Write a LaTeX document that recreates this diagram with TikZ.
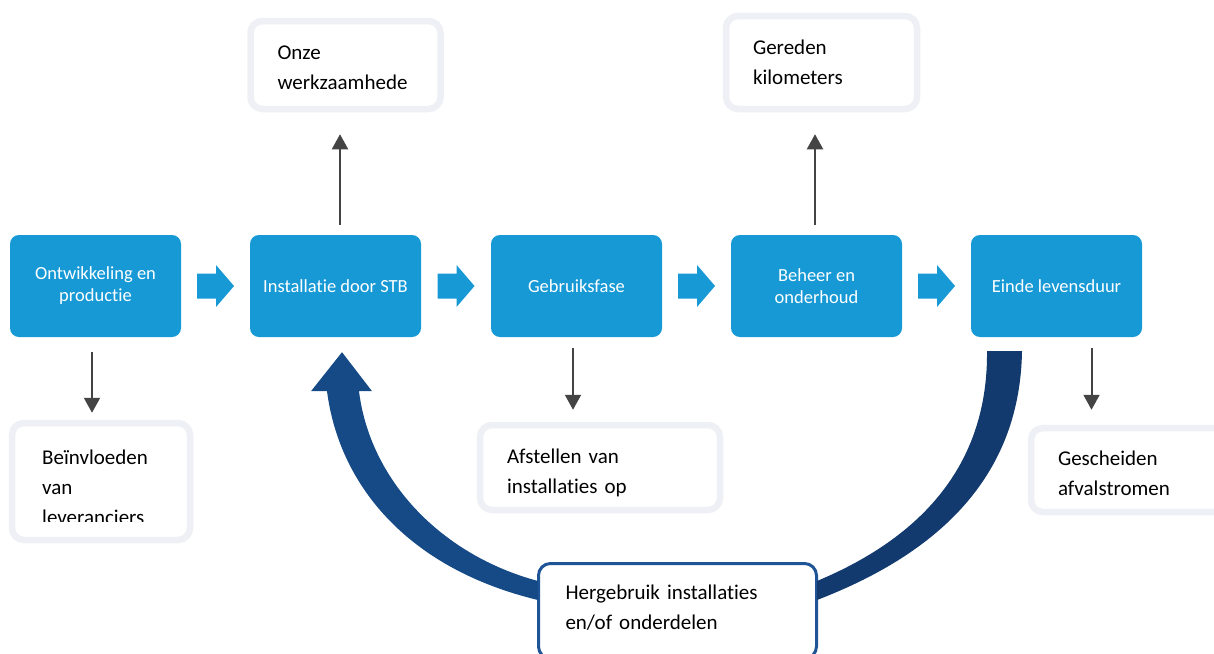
\documentclass[tikz,border=0pt]{standalone}
\usepackage{fontspec}
\setmainfont{Carlito}[Ligatures=NoCommon]
\usepackage{tikz}
\usetikzlibrary{calc}
\usetikzlibrary{arrows.meta}
\definecolor{StageBlue}{RGB}{23,153,214}
\definecolor{LoopBlue}{RGB}{21,74,135}
\definecolor{LoopDark}{RGB}{18,58,110}
\definecolor{FrameBlue}{RGB}{31,85,150}
\definecolor{BoxGrey}{RGB}{238,240,245}
\definecolor{ArrowGrey}{RGB}{68,68,68}
\hyphenpenalty=10000

\begin{document}
\begin{tikzpicture}[x=1pt,y=-1pt]
       \tikzstyle{every node}=[font=\fontsize{21}{30}\selectfont]
       \tikzstyle{stage}=[fill=StageBlue, rounded corners=9pt, minimum width=171pt, minimum height=102pt, inner sep=0pt, text=white, align=center, font=\fontsize{18.5}{22}\selectfont]
       \tikzstyle{effect}=[draw=BoxGrey, line width=6.5pt, rounded corners=12pt, fill=white, align=left, inner xsep=27pt]
       \tikzstyle{impact}=[draw=ArrowGrey, line width=2pt, -{Triangle[width=16pt,length=15pt]}]
       \useasboundingbox (0,0) rectangle (1214,653);
       \clip (0,0) rectangle (1214,653);
       \fill[white] (0,0) rectangle (1214,653);
        % life cycle stages
        \node[stage] (s1) at (95.5,286) {Ontwikkeling en\\productie};
        \node[stage] (s2) at (335.5,286) {Installatie door STB};
        \node[stage] (s3) at (576.5,286) {Gebruiksfase};
        \node[stage] (s4) at (816.5,286) {Beheer en\\onderhoud};
        \node[stage] (s5) at (1056.5,286) {Einde levensduur};
        \foreach \a/\b in {s1/s2,s2/s3,s3/s4,s4/s5}
          \fill[StageBlue] ($(\a.east)!0.5!(\b.west)$) ++(-18.5,12.5) -- ++(19,0) -- ++(0,8.5)
            -- ++(18,-21) -- ++(-18,-21) -- ++(0,8.5) -- ++(-19,0) -- cycle;
        % effects
        \node[effect, minimum width=178pt, minimum height=117pt] (w1) at (101,481.5) {};
        \begin{scope}
          \clip (w1.north west) rectangle (190,521);
          \node[align=left, inner sep=0pt, anchor=north west] (w1text) at (42,449.5) {Beïnvloeden\\van\\leveranciers};
        \end{scope}
        \node[effect, text width=136pt, minimum height=88pt] (w2) at (345.5,65) {\rule{0pt}{19.5pt}Onze\\werkzaamhede};
        \node[effect, text width=186pt, minimum height=85pt] (w3) at (600,467.5) {\rule{0pt}{26pt}Afstellen van\\installaties op};
        \node[effect, text width=137pt, minimum height=93pt] (w4) at (821.5,62.5) {Gereden\\kilometers};
        \node[effect, text width=142pt, minimum height=84pt] (w5) at (1129,470) {\rule{0pt}{21.8pt}Gescheiden\\afvalstromen};
        \draw[impact, shorten <=15pt, shorten >=7pt] ([xshift=-3.5pt]s1.south) -- ([xshift=-3.5pt]s1.south |- w1.north);
        \draw[impact, shorten <=10pt, shorten >=22pt] ([xshift=4.5pt]s2.north) -- ([xshift=4.5pt]s2.north |- w2.south);
        \draw[impact, shorten <=11pt, shorten >=12pt] ([xshift=-3.5pt]s3.south) -- ([xshift=-3.5pt]s3.south |- w3.north);
        \draw[impact, shorten <=10pt, shorten >=22pt] ([xshift=-1.5pt]s4.north) -- ([xshift=-1.5pt]s4.north |- w4.south);
        \draw[impact, shorten <=11pt, shorten >=15pt] ([xshift=35pt]s5.south) -- ([xshift=35pt]s5.south |- w5.north);
        % reuse loop
        \node[effect, draw=FrameBlue, line width=3pt, text width=224pt, minimum height=95pt] (reuse) at (677.5,611) {Hergebruik installaties\\en/of onderdelen\rule[-7pt]{0pt}{7pt}};
        \fill[LoopBlue] ($(reuse.west)+(1,-11)$) .. controls +(-125,-30) and +(13,99) .. ($(s2.south)+(-8.5,54)$)
          -- ++(-16,0) -- ($(s2.south)+(6.5,15)$) -- ++(30,39) -- ++(-13,0)
          .. controls +(11,89) and +(-97,-26) .. ($(reuse.west)+(1,-30)$) -- cycle;
        \fill[LoopDark] ($(reuse.east)+(-1,-30)$) .. controls +(110,-46) and +(1,109) .. ($(s5.south)+(-69.5,14)$)
          -- ++(35,0) .. controls +(-2,119) and +(130,-50) .. ($(reuse.east)+(-1,-11)$) -- cycle;
      \end{tikzpicture}
\end{document}
